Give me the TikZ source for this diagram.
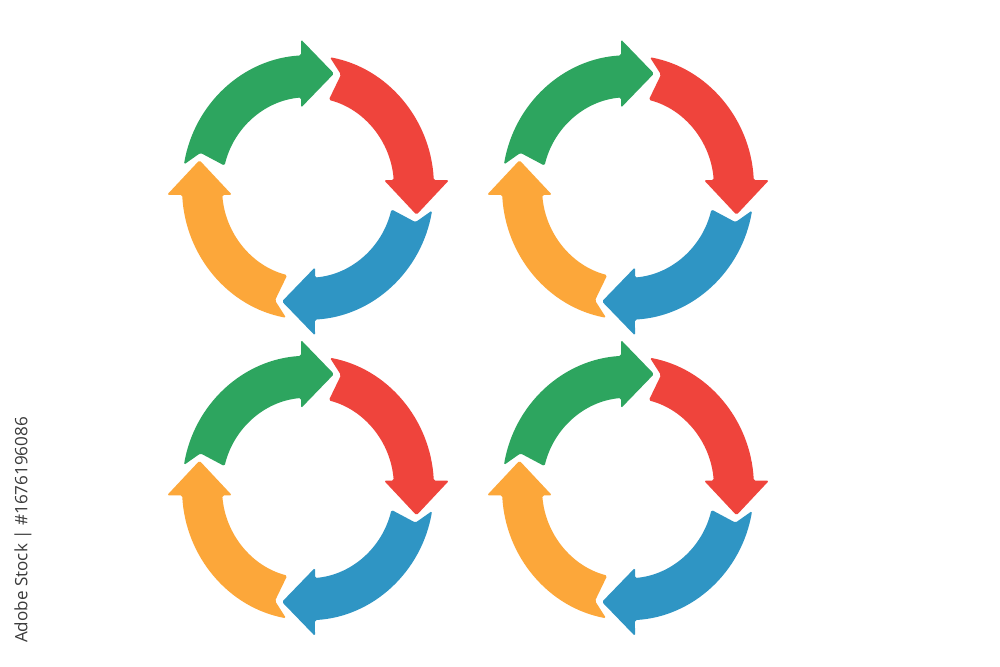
\documentclass[tikz,border=0pt]{standalone}
\usepackage{fontspec}
\newfontfamily\creditfont{Open Sans}
\definecolor{greenA}{HTML}{2DA55F}
\definecolor{redA}{HTML}{EF443C}
\definecolor{blueA}{HTML}{2F95C4}
\definecolor{orangeA}{HTML}{FCA73A}
\definecolor{creditgray}{HTML}{3A3A3A}
\tikzset{
  cyclepiece/.style={fill=#1, draw=none, rounded corners=1.2},
  creditlabel/.style={rotate=90, text=creditgray, inner sep=0pt,
    font=\creditfont\fontsize{12.8}{15}\selectfont}
}
\begin{document}
\begin{tikzpicture}[x=0.75pt,y=0.75pt]
\useasboundingbox (0,0) rectangle (1000,-667);
\fill[white] (0,0) rectangle (1000,-667);
\foreach \cx/\cy in {308/-187.5, 628/-187.5, 308/-488, 628/-488}{
  \foreach \ang/\col in {0/redA, 90/greenA, 180/orangeA, 270/blueA}{
    \path[cyclepiece=\col, shift={(\cx,\cy)}, yscale=1.05, rotate=\ang]
      (80:126) arc[start angle=80, end angle=3.18, radius=126]
      -- (141,7) -- (108.5,-26) -- (76,7)
      -- (4.67:86) arc[start angle=4.67, end angle=76, radius=86]
      -- (33,107.5) -- cycle;
  }
}
\node[creditlabel] (credit) at (23,-530) {Adobe Stock | \#1676196086};
\end{tikzpicture}
\end{document}
